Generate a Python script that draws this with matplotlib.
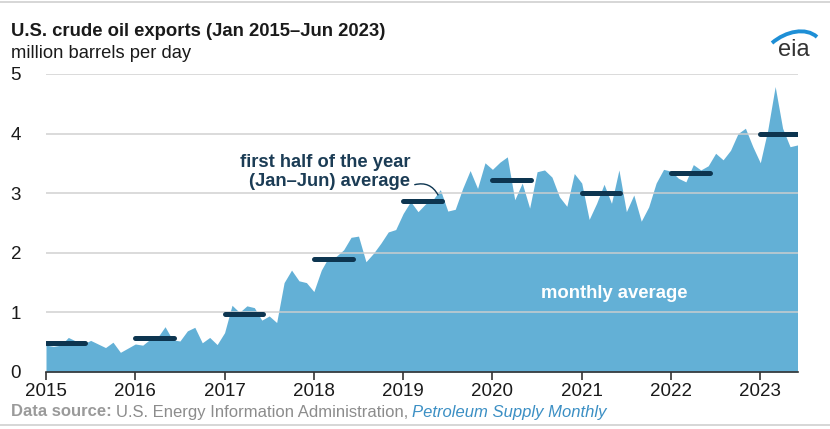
import numpy as np
import matplotlib
matplotlib.use("Agg")
import matplotlib.pyplot as plt
from matplotlib.path import Path
from matplotlib.patches import PathPatch
from matplotlib.lines import Line2D

plt.rcParams['font.family'] = ['Liberation Sans', 'DejaVu Sans']

# ---- data (million barrels per day) ----
exports_2015 = [0.45, 0.43, 0.45, 0.58, 0.52, 0.47, 0.53, 0.47, 0.41, 0.50, 0.33, 0.40]
exports_2016 = [0.47, 0.45, 0.55, 0.58, 0.76, 0.54, 0.52, 0.69, 0.75, 0.49, 0.58, 0.46]
exports_2017 = [0.66, 1.12, 1.00, 1.11, 1.08, 0.87, 0.94, 0.83, 1.50, 1.71, 1.53, 1.50]
exports_2018 = [1.35, 1.71, 1.93, 1.94, 2.05, 2.26, 2.28, 1.85, 1.99, 2.16, 2.35, 2.39]
exports_2019 = [2.66, 2.86, 2.69, 2.82, 2.89, 3.06, 2.70, 2.73, 3.08, 3.38, 3.08, 3.51]
exports_2020 = [3.40, 3.52, 3.61, 2.89, 3.17, 2.75, 3.36, 3.39, 3.27, 2.94, 2.78, 3.33]
exports_2021 = [3.17, 2.56, 2.83, 3.15, 2.83, 3.39, 2.69, 2.97, 2.53, 2.77, 3.17, 3.40]
exports_2022 = [3.37, 3.25, 3.19, 3.48, 3.39, 3.46, 3.67, 3.56, 3.72, 4.00, 4.09, 3.78]
exports_2023 = [3.51, 4.06, 4.79, 4.09, 3.78, 3.81]

years = [2015, 2016, 2017, 2018, 2019, 2020, 2021, 2022, 2023]
h1_average = [0.49, 0.57, 0.97, 1.89, 2.87, 3.22, 3.00, 3.34, 4.00]
yticks = [0, 1, 2, 3, 4, 5]

monthly = (exports_2015 + exports_2016 + exports_2017 + exports_2018 + exports_2019
           + exports_2020 + exports_2021 + exports_2022 + exports_2023)
x = years[0] + np.arange(len(monthly)) / 12.0

W, H = 830, 429
fig = plt.figure(figsize=(W / 100, H / 100), dpi=100)

def fx(px):
    return px / W

def fy(py):
    return 1 - py / H

ax = fig.add_axes([fx(46), fy(372), fx(797.5) - fx(46), fy(74) - fy(372)])

area_color = '#63b0d6'
navy = '#0d3550'

ax.fill_between(x, 0, monthly, color=area_color, lw=0, zorder=1)

for yv in yticks[1:]:
    ax.axhline(yv, color='#cfcfcf', lw=1.4, alpha=0.75, zorder=2)

for yr, avg in zip(years, h1_average):
    ax.plot([yr, yr + 5.2 / 12], [avg, avg], color=navy, lw=3.6,
            solid_capstyle='round', zorder=4)

ax.set_xlim(x[0], x[-1])
ax.set_ylim(0, 5)
ax.set_xticks(years)
ax.set_xticklabels([str(y) for y in years])
ax.set_yticks(yticks)
ax.set_yticklabels([str(v) for v in yticks])
for s in ['top', 'right', 'left']:
    ax.spines[s].set_visible(False)
ax.spines['bottom'].set_color('#333333')
ax.spines['bottom'].set_linewidth(1.2)
ax.spines['bottom'].set_zorder(5)
ax.tick_params(axis='x', length=6, width=1.2, color='#333333', labelsize=13.5,
               labelcolor='#1a1a1a', pad=2)
ax.tick_params(axis='y', length=0, labelsize=13.5, labelcolor='#1a1a1a', pad=18)

# annotations
ax.annotate('', xy=(2019 + 4.85 / 12, 2.93), xytext=(2019 + 0.1, 3.13),
            arrowprops=dict(arrowstyle='-', color=navy, lw=1.0,
                            connectionstyle='arc3,rad=-0.45'), zorder=6)
fig.text(fx(410), fy(172), 'first half of the year\n(Jan\u2013Jun) average',
         ha='right', va='center', ma='right', fontsize=13.2, fontweight='bold',
         color='#1b3c55', linespacing=1.15)
fig.text(fx(614), fy(294), 'monthly average', ha='center', va='center',
         fontsize=13.3, fontweight='bold', color='white')

# title block
fig.text(fx(11), fy(32), 'U.S. crude oil exports (Jan 2015\u2013Jun 2023)', ha='left',
         va='center', fontsize=13.3, fontweight='bold', color='#1a1a1a')
fig.text(fx(11), fy(53), 'million barrels per day', ha='left', va='center',
         fontsize=13.2, color='#1a1a1a')

# eia logo
fig.text(fx(794), fy(50), 'eia', ha='center', va='center', fontsize=17,
         color='#333333')
verts = [(fx(772), fy(43)), (fx(786), fy(31)), (fx(806), fy(27)), (fx(817), fy(37))]
swoosh = PathPatch(Path(verts, [Path.MOVETO, Path.CURVE4, Path.CURVE4, Path.CURVE4]),
                   transform=fig.transFigure, fill=False, edgecolor='#1e8fd6', lw=2.8)
fig.add_artist(swoosh)

# frame lines
fig.add_artist(Line2D([0, 1], [fy(1.5), fy(1.5)], transform=fig.transFigure,
                      color='#d0d0d0', lw=1.2))
fig.add_artist(Line2D([0, 1], [fy(425), fy(425)], transform=fig.transFigure,
                      color='#d0d0d0', lw=1.2))

# source line
renderer = fig.canvas.get_renderer()
t1 = fig.text(fx(11), fy(412), 'Data source:', ha='left', va='center',
              fontsize=12, fontweight='bold', color='#9a9a9a')
bb = t1.get_window_extent(renderer)
t2 = fig.text(bb.x1 / W + 4 / W, fy(412), 'U.S. Energy Information Administration,',
              ha='left', va='center', fontsize=12, color='#8c8c8c')
bb2 = t2.get_window_extent(renderer)
fig.text(bb2.x1 / W + 4 / W, fy(412), 'Petroleum Supply Monthly', ha='left',
         va='center', fontsize=12, style='italic', color='#3b8fc4')

fig.savefig('out.png', dpi=100)
